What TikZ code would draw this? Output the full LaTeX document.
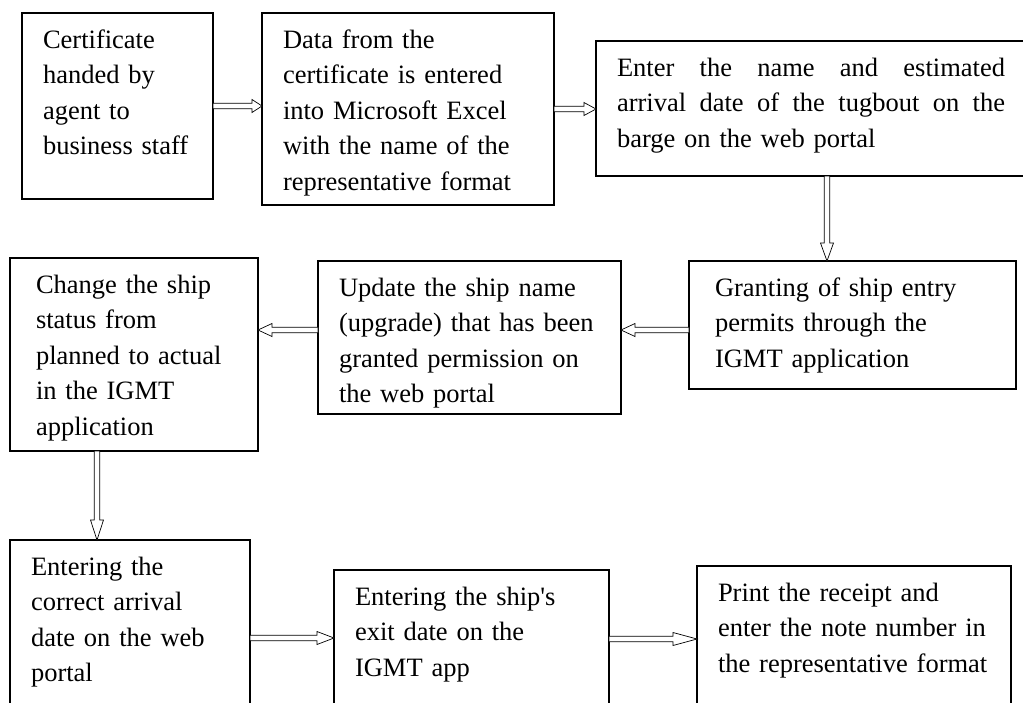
\documentclass[tikz,border=0pt]{standalone}
\usepackage{fontspec}
\setmainfont{Liberation Serif}
\usetikzlibrary{calc}

\tikzset{
  stepbox/.style={draw,line width=1.3pt,anchor=north west,outer sep=0pt,inner xsep=21pt,inner ysep=0pt,
    align=left,text height=35pt,font=\fontsize{26.5}{35.5}\selectfont},
  blockarrow/.style={draw,line width=.7pt,fill=white,to path={let \p1=($(\tikztotarget)!#1!(\tikztostart)$) in
    ($(\tikztostart)!2.8pt!90:(\tikztotarget)$) -- ($(\p1)!2.8pt!90:(\tikztotarget)$) -- ($(\p1)!6.5pt!90:(\tikztotarget)$)
    -- (\tikztotarget) -- ($(\p1)!6.5pt!-90:(\tikztotarget)$) -- ($(\p1)!2.8pt!-90:(\tikztotarget)$)
    -- ($(\tikztostart)!2.8pt!-90:(\tikztotarget)$) -- cycle}},
  blockarrow/.default=12pt
}

\begin{document}
\begin{tikzpicture}[x=1pt,y=-1pt]
\path[use as bounding box] (0,0) rectangle (1023,702);
\clip (0,0) rectangle (1023,702);
% first row
\node[stepbox,text width=149pt,text depth=151pt] (b1) at (22,13) {Certificate\\handed by\\agent to\\business staff};
\node[stepbox,text width=250pt,text depth=157pt] (b2) at (262,13) {Data from the\\certificate is entered\\into Microsoft Excel\\with the name of the\\representative format};
\node[stepbox,text width=388pt,text depth=100pt] (b3) at (596,41) {\makebox[388pt][l]{Enter\hfill the\hfill name\hfill and\hfill estimated}\\\makebox[388pt][l]{arrival\hfill date\hfill of\hfill the\hfill tugbout\hfill on\hfill the}\\barge on the web portal};
% second row
\node[stepbox,inner xsep=26pt,text width=196pt,text depth=158pt] (b4) at (10,258) {Change the ship\\status from\\planned to actual\\in the IGMT\\application};
\node[stepbox,text width=261pt,text depth=118pt] (b5) at (318,261) {Update the ship name\\(upgrade) that has been\\granted permission on\\the web portal};
\node[stepbox,inner xsep=26pt,text width=275pt,text depth=93pt] (b6) at (689,261) {Granting of ship entry\\permits through the\\IGMT application};
% third row, cut by the page edge
\node[stepbox,text width=198pt,text depth=161pt] (b7) at (10,540) {Entering the\\correct arrival\\date on the web\\portal};
\node[stepbox,text width=233pt,text depth=103pt] (b8) at (334,570) {Entering the ship\textquotesingle s\\exit date on the\\IGMT app};
\node[stepbox,text width=272pt,text depth=105pt] (b9) at (697,566) {Print the receipt and\\enter the note number in\\the representative format};
% arrows
\draw[blockarrow=10pt] (b1.east) to (b1.east -| b2.west);
\draw[blockarrow=12pt] (b2.east) to (b2.east -| b3.west);
\draw[blockarrow=18pt] ([xshift=16pt]b3.south) to ([xshift=16pt]b3.south |- b6.north);
\draw[blockarrow=14pt] ([yshift=-5pt]b6.west) to ([yshift=-5pt]b6.west -| b5.east);
\draw[blockarrow=14pt] ([yshift=7.5pt]b5.west) to ([yshift=7.5pt]b5.west -| b4.east);
\draw[blockarrow=20pt] ([xshift=-37pt]b4.south) to ([xshift=-37pt]b4.south |- b7.north);
\draw[blockarrow=17pt] (b7.east) to (b7.east -| b8.west);
\draw[blockarrow=24pt] (b8.east) to (b8.east -| b9.west);
\end{tikzpicture}
\end{document}
